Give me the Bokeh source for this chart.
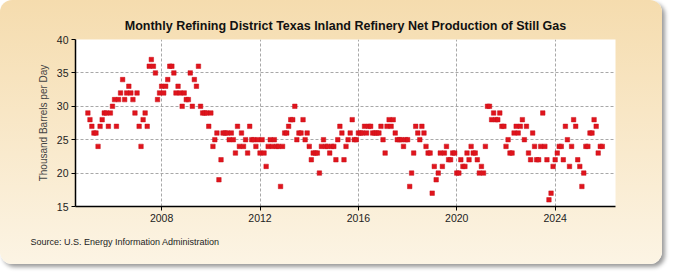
import pandas as pd
from datetime import datetime
from bokeh.plotting import figure
from bokeh.models import FixedTicker, Title, Range1d, DatetimeTickFormatter, ColumnDataSource
from bokeh.embed import file_html
from bokeh.resources import INLINE

# Monthly values, thousand barrels per day (Jan..Dec)
y2005 = [29, 28, 27, 26, 26, 24, 27, 28, 29, 29, 27, 29]
y2006 = [30, 31, 27, 31, 32, 34, 31, 32, 33, 32, 31, 29]
y2007 = [32, 27, 24, 28, 29, 27, 36, 37, 36, 35, 31, 32]
y2008 = [33, 32, 33, 34, 36, 36, 35, 32, 33, 32, 30, 32]
y2009 = [31, 31, 35, 30, 34, 33, 36, 30, 29, 29, 29, 27]
y2010 = [29, 24, 25, 26, 19, 22, 26, 26, 26, 25, 26, 25]
y2011 = [23, 27, 24, 26, 24, 25, 23, 27, 25, 25, 24, 25]
y2012 = [23, 25, 23, 21, 24, 25, 24, 25, 24, 24, 18, 24]
y2013 = [26, 26, 27, 28, 28, 30, 25, 26, 26, 28, 25, 26]
y2014 = [24, 22, 23, 23, 23, 20, 24, 25, 24, 24, 23, 24]
y2015 = [24, 22, 25, 27, 26, 22, 24, 25, 26, 28, 25, 25]
y2016 = [26, 26, 26, 27, 26, 27, 27, 26, 26, 26, 26, 27]
y2017 = [25, 23, 27, 28, 27, 28, 26, 25, 25, 25, 24, 25]
y2018 = [25, 18, 20, 23, 27, 26, 25, 27, 26, 24, 23, 23]
y2019 = [17, 21, 19, 20, 23, 21, 23, 24, 22, 22, 23, 23]
y2020 = [20, 20, 22, 21, 21, 23, 22, 24, 23, 23, 22, 20]
y2021 = [21, 20, 24, 30, 30, 28, 29, 28, 28, 29, 27, 27]
y2022 = [24, 25, 23, 23, 26, 27, 26, 27, 28, 25, 27, 23]
y2023 = [22, 26, 24, 22, 22, 24, 29, 24, 22, 16, 17, 21]
y2024 = [22, 23, 24, 24, 22, 27, 25, 21, 24, 28, 27, 22]
y2025 = [21, 18, 20, 24, 24, 26, 26, 28, 27, 23, 24, 24]

values = (y2005 + y2006 + y2007 + y2008 + y2009 + y2010 + y2011 + y2012 + y2013
          + y2014 + y2015 + y2016 + y2017 + y2018 + y2019 + y2020 + y2021
          + y2022 + y2023 + y2024 + y2025)
dates = pd.date_range("2005-01-01", periods=len(values), freq="MS")

tick_years = [2008, 2012, 2016, 2020, 2024]
y_ticks = [15, 20, 25, 30, 35, 40]

title_text = "Monthly Refining District Texas Inland Refinery Net Production of Still Gas"
y_label = "Thousand Barrels per Day"
source_text = "Source: U.S. Energy Information Administration"

src = ColumnDataSource(data=dict(date=dates, value=values))

p = figure(width=662, height=264, output_backend="svg", toolbar_location=None,
           x_axis_type="datetime",
           x_range=Range1d(datetime(2004, 7, 1), datetime(2026, 6, 15)),
           y_range=Range1d(15, 40),
           min_border_left=75, min_border_right=47, min_border_top=39,
           min_border_bottom=58)

p.border_fill_alpha = 0
p.background_fill_color = "white"
p.outline_line_color = None
p.styles = {"background": "linear-gradient(#F5DCAE, #FCF4E4)",
            "border-radius": "12px", "overflow": "hidden",
            "box-shadow": "3px 3px 4px #9a9a9a"}

p.scatter("date", "value", source=src, marker="square", size=4.5,
          fill_color="#E0141C", line_color="#C8101A", line_width=0.5)

tick_ms = [datetime(y, 1, 1).timestamp() * 1000 for y in tick_years]
p.xaxis.ticker = FixedTicker(ticks=tick_ms)
p.xaxis.formatter = DatetimeTickFormatter(years="%Y", months="%Y", days="%Y")
p.yaxis.ticker = FixedTicker(ticks=y_ticks)

for ax in (p.xaxis, p.yaxis):
    ax.axis_line_color = "black"
    ax.axis_line_width = 1.5
    ax.major_tick_line_color = "black"
    ax.major_tick_out = 4
    ax.major_tick_in = 0
    ax.minor_tick_line_color = None
    ax.major_label_text_font = "Liberation Sans"
    ax.major_label_text_font_size = "10.5px"
    ax.major_label_text_color = "#222222"
p.xaxis.major_label_standoff = 3
p.yaxis.major_label_standoff = 3

p.yaxis.axis_label = y_label
p.yaxis.axis_label_text_font = "Liberation Sans"
p.yaxis.axis_label_text_font_style = "normal"
p.yaxis.axis_label_text_font_size = "10px"
p.yaxis.axis_label_standoff = 5

for g in (p.xgrid, p.ygrid):
    g.grid_line_color = "#A8A8A8"
    g.grid_line_dash = "3 2"
    g.grid_line_width = 1
p.xgrid.ticker = FixedTicker(ticks=tick_ms)
p.ygrid.ticker = FixedTicker(ticks=y_ticks)

p.title.text = title_text
p.title.align = "center"
p.title.text_font = "Liberation Sans"
p.title.text_font_style = "bold"
p.title.text_font_size = "12.5px"
p.title.text_color = "#111111"
p.title.standoff = 14
p.title.offset = 0

src_title = Title(text=source_text, align="left", offset=-45, standoff=21,
                  text_font="Liberation Sans", text_font_style="normal",
                  text_font_size="9px", text_color="#222222")
p.add_layout(src_title, "below")

open("out.html", "w").write(file_html(p, INLINE))
